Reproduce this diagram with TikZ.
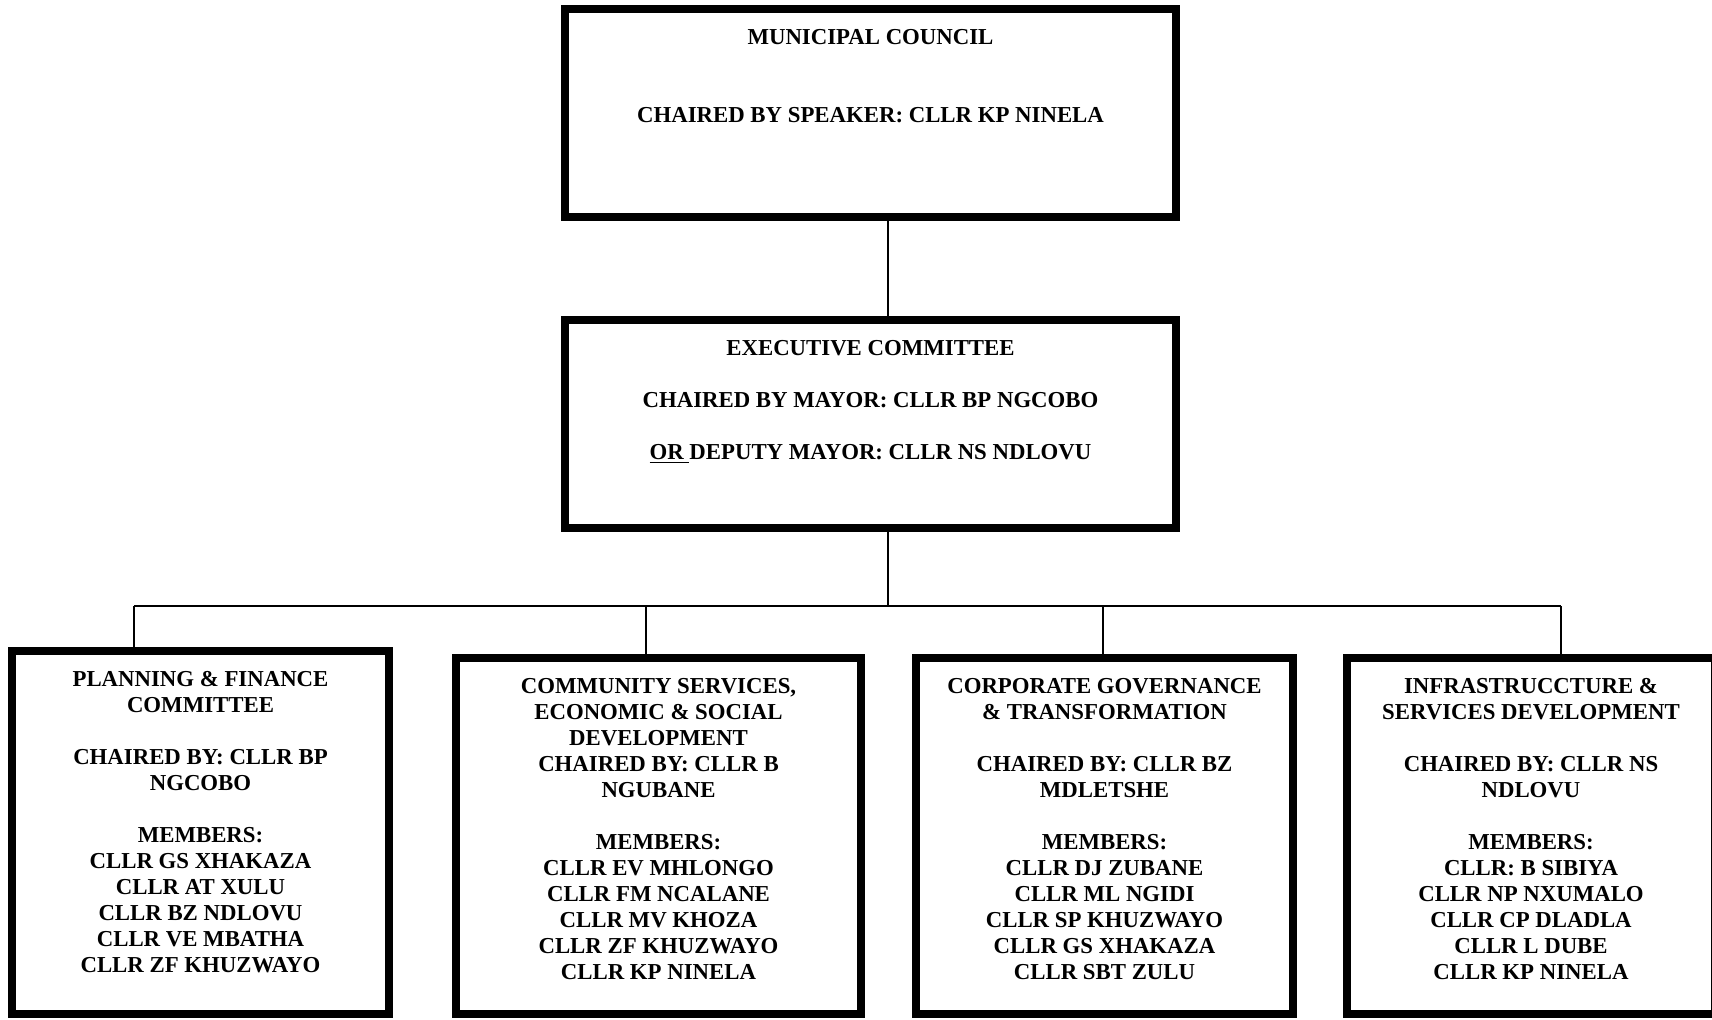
\documentclass[tikz,border=0pt]{standalone}
\usepackage{fontspec}
\setmainfont{Liberation Serif}
\usepackage{tikz}
\usetikzlibrary{positioning}

\begin{document}
\begin{tikzpicture}[x=0.5pt,y=-0.5pt,
    box/.style={draw=black,line width=4pt,rectangle,inner sep=0pt},
    txt/.style={align=center,inner sep=0pt,font=\fontsize{11.4}{13}\selectfont\bfseries},
    conn/.style={draw=black,line width=1pt}]
    \useasboundingbox (0,0) rectangle (1712,1019);
    % council and executive
    \node [box,minimum width=305.5pt,minimum height=104pt] (council) at (870.5,113) {};
    \node [txt,below=12pt of council.north] (councilT) {MUNICIPAL COUNCIL\\[26pt]CHAIRED BY SPEAKER: CLLR KP NINELA};
    \node [box,minimum width=305.5pt,minimum height=104pt] (exec) at (870.5,424) {};
    \node [txt,below=12pt of exec.north] (execT) {EXECUTIVE COMMITTEE\\[13pt]CHAIRED BY MAYOR: CLLR BP NGCOBO\\[13pt]\underline{OR\ }DEPUTY MAYOR: CLLR NS NDLOVU};
    % committees
    \node [box,minimum width=188.5pt,minimum height=181.5pt] (plan) at (200.5,832.5) {};
    \node [txt,below=11.8pt of plan.north] (planT) {PLANNING \& FINANCE\\COMMITTEE\\[13pt]CHAIRED BY: CLLR BP\\NGCOBO\\[13pt]MEMBERS:\\CLLR GS XHAKAZA\\CLLR AT XULU\\CLLR BZ NDLOVU\\CLLR VE MBATHA\\CLLR ZF KHUZWAYO};
    \node [box,minimum width=202.5pt,minimum height=178pt] (comm) at (658.5,836) {};
    \node [txt,below=11.8pt of comm.north] (commT) {COMMUNITY SERVICES,\\ECONOMIC \& SOCIAL\\DEVELOPMENT\\CHAIRED BY: CLLR B\\NGUBANE\\[13pt]MEMBERS:\\CLLR EV MHLONGO\\CLLR FM NCALANE\\CLLR MV KHOZA\\CLLR ZF KHUZWAYO\\CLLR KP NINELA};
    \node [box,minimum width=188.5pt,minimum height=178pt] (corp) at (1104.5,836) {};
    \node [txt,below=11.8pt of corp.north] (corpT) {CORPORATE GOVERNANCE\\\& TRANSFORMATION\\[13pt]CHAIRED BY: CLLR BZ\\MDLETSHE\\[13pt]MEMBERS:\\CLLR DJ ZUBANE\\CLLR ML NGIDI\\CLLR SP KHUZWAYO\\CLLR GS XHAKAZA\\CLLR SBT ZULU};
    \node [box,minimum width=184pt,minimum height=178pt] (infra) at (1531,836) {};
    \node [txt,below=11.8pt of infra.north] (infraT) {INFRASTRUCCTURE \&\\SERVICES DEVELOPMENT\\[13pt]CHAIRED BY: CLLR NS\\NDLOVU\\[13pt]MEMBERS:\\CLLR: B SIBIYA\\CLLR NP NXUMALO\\CLLR CP DLADLA\\CLLR L DUBE\\CLLR KP NINELA};
    % connectors
    \coordinate (bus) at (888,606);
    \coordinate (d1) at (134,606);
    \coordinate (d2) at (646,606);
    \coordinate (d3) at (1103,606);
    \coordinate (d4) at (1561,606);
    \draw [conn] (council.south -| bus) -- (exec.north -| bus);
    \draw [conn] (exec.south -| bus) -- (bus);
    \draw [conn] (d1) -- (d4);
    \draw [conn] (d1) -- (d1 |- plan.north);
    \draw [conn] (d2) -- (d2 |- comm.north);
    \draw [conn] (d3) -- (d3 |- corp.north);
    \draw [conn] (d4) -- (d4 |- infra.north);
\end{tikzpicture}
\end{document}
